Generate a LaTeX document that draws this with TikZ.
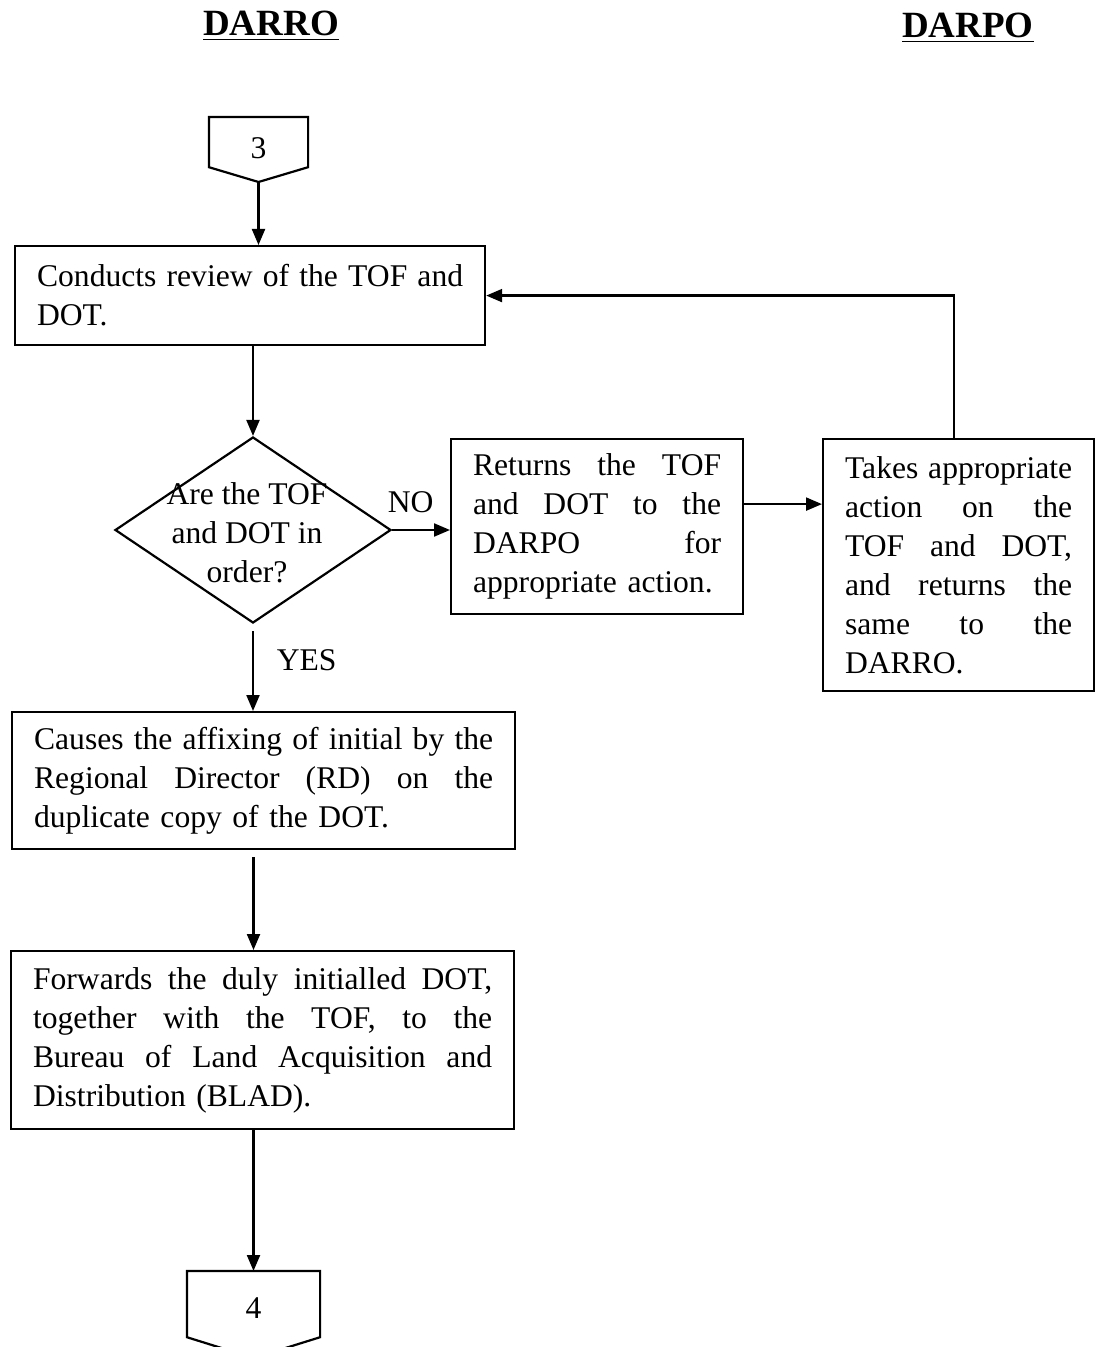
\documentclass[tikz,border=0pt]{standalone}
\usepackage{fontspec}
\setmainfont{Liberation Serif}
\usetikzlibrary{arrows.meta,shapes,positioning}
\newcommand{\boxfont}{\fontsize{15.8pt}{19.5pt}\selectfont}
% one justified line of a box
\newcommand{\jl}[1]{\makebox[\linewidth][s]{\spaceskip=.25em plus 2em minus .05em\relax #1}}
\tikzset{
  every picture/.style = {
    line width = 1.1pt,
    >={Triangle[length=8pt,width=6.5pt]},
    x = 0.5pt,
    y = -0.5pt
  }
  ,
  task/.style = {
    rectangle,
    draw,
    anchor = north west,
    font = \boxfont,
    align = left,
    inner xsep = 11pt,
    inner ysep = 2pt
  }
  ,
  decision/.style = {
    diamond,
    draw,
    inner sep = 0pt,
    minimum width = 138pt,
    minimum height = 93pt
  }
  , % off-page connectors
  offpage/.style = {
    anchor = north,
    inner sep = 0pt
  }
  , % column titles
  colhead/.style = {
    font = \fontsize{18.5pt}{22pt}\selectfont\bfseries,
    anchor = base
  }
  , % labels of edges
  label-edge/.style = {
    font = \boxfont
  }
}

\begin{document}
\begin{tikzpicture}
\useasboundingbox (0,0) rectangle (1098,1347);

\node [colhead] (darro) at (271,36) {\underline{DARRO}};
\node [colhead] (darpo) at (968,38) {\underline{DARPO}};

% connector 3
\node [offpage, minimum width = 48.5pt, minimum height = 24pt,
  label = {[label-edge, yshift = -3pt]center:3}] (c3) at (258.5,117) {};
\coordinate (c3tip) at (258.5,182);
\draw (c3.north west) -- (c3.north east) -- (c3.south east) -- (c3tip)
  -- (c3.south west) -- cycle;

\node [task, text width = 213pt, minimum width = 235pt, minimum height = 49.5pt]
  (review) at (14,245) {\jl{Conducts review of the TOF and}\\DOT.};

\node [decision, label = {[label-edge, align = center, xshift = -3pt, yshift = -1.5pt]center:{Are the TOF\\and DOT in\\order?}}]
  (check) at (253,530) {};

\node [task, text width = 124pt, minimum width = 146pt, minimum height = 87.5pt]
  (return) at (450,438)
  {\jl{Returns the TOF}\\\jl{and DOT to the}\\\jl{DARPO for}\\appropriate action.};

\node [task, text width = 113.5pt, minimum width = 135.5pt, minimum height = 126pt]
  (action) at (822,438)
  {\jl{Takes appropriate}\\\jl{action on the}\\\jl{TOF and DOT,}\\\jl{and returns the}\\\jl{same to the}\\DARRO.};

\node [task, text width = 229.5pt, minimum width = 251.5pt, minimum height = 68.5pt]
  (initial) at (11,711)
  {\jl{Causes the affixing of initial by the}\\\jl{Regional Director (RD) on the}\\duplicate copy of the DOT.};

\node [task, text width = 229.5pt, minimum width = 251.5pt, minimum height = 89pt]
  (forward) at (10,950)
  {\jl{Forwards the duly initialled DOT,}\\\jl{together with the TOF, to the}\\\jl{Bureau of Land Acquisition and}\\Distribution (BLAD).};

% connector 4
\node [offpage, minimum width = 65.5pt, minimum height = 32pt,
  label = {[label-edge, yshift = -2pt]center:4}] (c4) at (253.5,1271) {};
\coordinate (c4tip) at (253.5,1358);
\draw (c4.north west) -- (c4.north east) -- (c4.south east) -- (c4tip)
  -- (c4.south west) -- cycle;

\draw [->] (c3tip) -- (c3tip |- review.north);
\draw [->] (review.south -| check.north) -- (check.north);
\draw [->] (check.east) -- node [label-edge, above = 4.5pt, pos = 0.32] {NO}
  (check.east -| return.west);
\draw [->] ([yshift = -3.5pt]check.south) -- node [label-edge, right = 8pt, pos = 0.37] {YES}
  (check.south |- initial.north);
\draw [->] ([yshift = 11.25pt]return.east) -- ([yshift = 11.25pt]return.east -| action.west);
\draw [->] ([xshift = -2.5pt]action.north) |- (review.east);
\draw [->] ([yshift = -3.5pt]initial.south -| c4.north) -- (forward.north -| c4.north);
\draw [->] (forward.south -| c4.north) -- (c4.north);
\end{tikzpicture}
\end{document}
